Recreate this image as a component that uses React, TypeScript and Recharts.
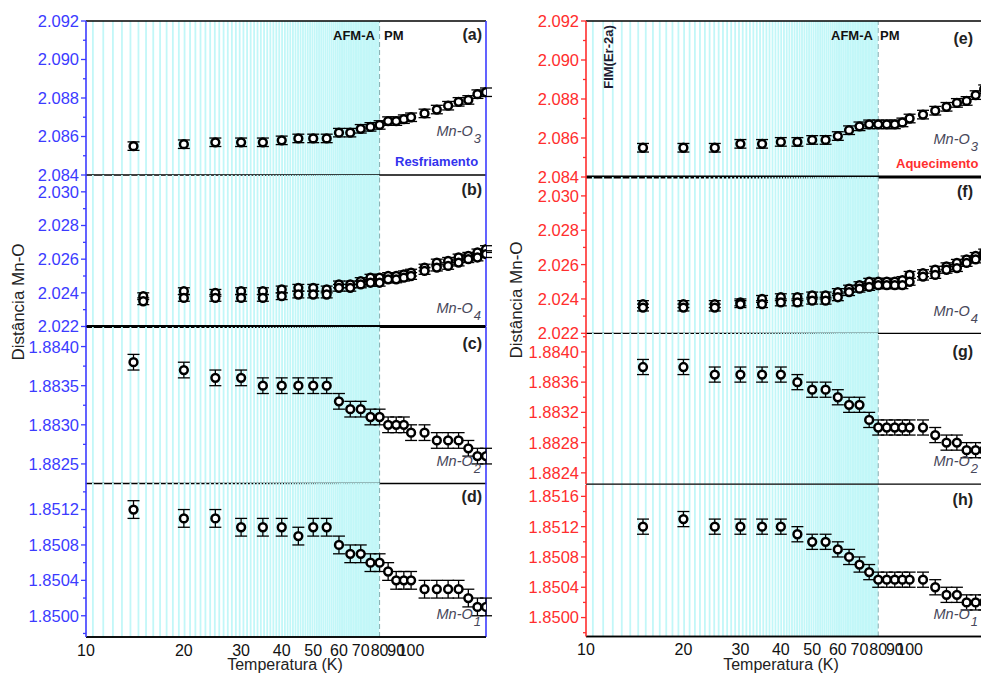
import { ScatterChart, Scatter, XAxis, YAxis, ErrorBar, ReferenceLine } from 'recharts'

const FONT = '"Liberation Sans", Arial, sans-serif'
const BLUE = '#3b3bff'
const RED = '#ff2e2e'
const LABEL_GRAY = '#47475a'

// temperatures (K)
const tempsCool = [14, 20, 25, 30, 35, 40, 45, 50, 55, 60, 65, 70, 75, 80, 85, 90, 95, 100, 110, 120, 130, 140, 150, 160, 170]
const tempsCoolO4 = [15, 20, 25, 30, 35, 40, 45, 50, 55, 60, 65, 70, 75, 80, 85, 90, 95, 100, 110, 120, 130, 140, 150, 160, 170]
const tempsHeat = [15, 20, 25, 30, 35, 40, 45, 50, 55, 60, 65, 70, 75, 80, 85, 90, 95, 100, 110, 120, 130, 140, 150, 160, 170]

// Mn-O distances on cooling (Resfriamento)
const o3Cool = [2.0855, 2.0856, 2.0857, 2.0857, 2.0857, 2.0858, 2.0859, 2.0859, 2.0859, 2.0862, 2.0862, 2.0864, 2.0865, 2.0866, 2.0868, 2.0868, 2.0869, 2.087, 2.0872, 2.0874, 2.0876, 2.0878, 2.0879, 2.0882, 2.0883]
const o4aCool = [2.0238, 2.0241, 2.024, 2.0241, 2.0241, 2.0242, 2.0243, 2.0243, 2.0242, 2.0245, 2.0245, 2.0247, 2.0249, 2.0249, 2.025, 2.025, 2.0251, 2.0252, 2.0255, 2.0258, 2.0259, 2.0261, 2.0262, 2.0264, 2.0266]
const o4bCool = [2.0235, 2.0237, 2.0237, 2.0237, 2.0237, 2.0238, 2.0239, 2.0239, 2.0239, 2.0243, 2.0243, 2.0245, 2.0246, 2.0246, 2.0248, 2.0248, 2.0249, 2.025, 2.0253, 2.0255, 2.0256, 2.0258, 2.026, 2.0261, 2.0263]
const o2Cool = [1.8838, 1.8837, 1.8836, 1.8836, 1.8835, 1.8835, 1.8835, 1.8835, 1.8835, 1.8833, 1.8832, 1.8832, 1.8831, 1.8831, 1.883, 1.883, 1.883, 1.8829, 1.8829, 1.8828, 1.8828, 1.8828, 1.8827, 1.8826, 1.8826]
const o1Cool = [1.8512, 1.8511, 1.8511, 1.851, 1.851, 1.851, 1.8509, 1.851, 1.851, 1.8508, 1.8507, 1.8507, 1.8506, 1.8506, 1.8505, 1.8504, 1.8504, 1.8504, 1.8503, 1.8503, 1.8503, 1.8503, 1.8502, 1.8501, 1.8501]

// Mn-O distances on heating (Aquecimento)
const o3Heat = [2.0855, 2.0855, 2.0855, 2.0857, 2.0857, 2.0858, 2.0858, 2.0859, 2.0859, 2.0861, 2.0864, 2.0866, 2.0867, 2.0867, 2.0867, 2.0867, 2.0868, 2.087, 2.0872, 2.0874, 2.0876, 2.0878, 2.0879, 2.0882, 2.0885]
const o4aHeat = [2.0237, 2.0237, 2.0237, 2.0238, 2.024, 2.0241, 2.0241, 2.0242, 2.0242, 2.0244, 2.0246, 2.0248, 2.025, 2.025, 2.025, 2.025, 2.0251, 2.0254, 2.0255, 2.0257, 2.0259, 2.0261, 2.0263, 2.0265, 2.0267]
const o4bHeat = [2.0235, 2.0235, 2.0235, 2.0237, 2.0237, 2.0238, 2.0238, 2.0239, 2.0239, 2.0241, 2.0244, 2.0246, 2.0247, 2.0248, 2.0248, 2.0248, 2.0248, 2.025, 2.0253, 2.0254, 2.0257, 2.0258, 2.0261, 2.0263, 2.0265]
const o2Heat = [1.8838, 1.8838, 1.8837, 1.8837, 1.8837, 1.8837, 1.8836, 1.8835, 1.8835, 1.8834, 1.8833, 1.8833, 1.8831, 1.883, 1.883, 1.883, 1.883, 1.883, 1.883, 1.8829, 1.8828, 1.8828, 1.8827, 1.8827, 1.8827]
const o1Heat = [1.8512, 1.8513, 1.8512, 1.8512, 1.8512, 1.8512, 1.8511, 1.851, 1.851, 1.8509, 1.8508, 1.8507, 1.8506, 1.8505, 1.8505, 1.8505, 1.8505, 1.8505, 1.8505, 1.8504, 1.8503, 1.8503, 1.8502, 1.8502, 1.8502]

// axis ticks
const tTicks = [10, 20, 30, 40, 50, 60, 70, 80, 90, 100]
const tDomain: [number, number] = [10, 170]
const tTransition = 80

const o3Major = [2.084, 2.086, 2.088, 2.09, 2.092]
const o3Minor = [2.085, 2.087, 2.089, 2.091]
const o4Major = [2.022, 2.024, 2.026, 2.028, 2.03]
const o4Minor = [2.023, 2.025, 2.027, 2.029]
const o2CoolMajor = [1.8825, 1.883, 1.8835, 1.884]
const o2CoolMinor = [1.88275, 1.88325, 1.88375]
const o2HeatMajor = [1.8824, 1.8828, 1.8832, 1.8836, 1.884]
const o2HeatMinor = [1.8826, 1.883, 1.8834, 1.8838, 1.8842]
const o1CoolMajor = [1.85, 1.8504, 1.8508, 1.8512]
const o1HeatMajor = [1.85, 1.8504, 1.8508, 1.8512, 1.8516]
const o1Minor = [1.8498, 1.8502, 1.8506, 1.851, 1.8514]

// vertical hatching of the ordered (AFM-A) region
const hatch = Array.from({ length: 87 }, (_, i) => 10.5 + i * 0.8)

type Series = { t: number[]; v: number[]; err: number }

const rows = (s: Series) => s.t.map((t, i) => ({ t, v: s.v[i], err: s.err }))

const Ring = (p: any) => (
  <circle cx={p.cx} cy={p.cy} r={3.9} fill="#fff" stroke="#000" strokeWidth={2.5} />
)

function YTick(props: any) {
  const { x, y, payload, major, decimals, color } = props
  const isMajor = major.some((m: number) => Math.abs(m - payload.value) < 1e-9)
  return (
    <g>
      <line x1={x - (isMajor ? 5 : 3)} x2={x} y1={y} y2={y} stroke={color} strokeWidth={1.3} />
      {isMajor && (
        <text x={x - 7} y={y} dy="0.36em" textAnchor="end" fill={color} fontSize={16.5} fontFamily={FONT}>
          {payload.value.toFixed(decimals)}
        </text>
      )}
    </g>
  )
}

function XTick({ x, y, payload }: any) {
  return (
    <text x={x} y={y + 19} textAnchor="middle" fill="#111" fontSize={16} fontFamily={FONT}>
      {payload.value}
    </text>
  )
}

type PanelProps = {
  left: number
  top: number
  plotW: number
  plotH: number
  domain: [number, number]
  major: number[]
  minor: number[]
  decimals: number
  color: string
  series: Series[]
  bottomAxis?: boolean
  topLine?: boolean
  bottomW?: number
}

// horizontal frame line held to the plot width
const hLine = (y: number) => [
  { x: tDomain[0], y },
  { x: tDomain[1], y },
]

function Panel(p: PanelProps) {
  const mTop = 12
  const mBottom = p.bottomAxis ? 0 : 12
  const height = mTop + p.plotH + (p.bottomAxis ? 40 : 12)
  return (
    <div style={{ position: 'absolute', left: p.left - 80, top: p.top - mTop }}>
      <ScatterChart width={80 + p.plotW + 6} height={height} margin={{ top: mTop, right: 6, bottom: mBottom, left: 0 }}>
        <XAxis
          type="number"
          dataKey="t"
          scale="log"
          domain={tDomain}
          allowDataOverflow
          ticks={tTicks}
          interval={0}
          hide={!p.bottomAxis}
          height={40}
          axisLine={{ stroke: '#000', strokeWidth: 1.3 }}
          tickLine={false}
          tickSize={0}
          tickMargin={0}
          tick={(t: any) => <XTick {...t} />}
        />
        <YAxis
          type="number"
          dataKey="v"
          domain={p.domain}
          allowDataOverflow
          ticks={[...p.major, ...p.minor]}
          interval={0}
          width={80}
          axisLine={{ stroke: p.color, strokeWidth: 1.6 }}
          tickLine={false}
          tickSize={0}
          tickMargin={0}
          tick={(t: any) => <YTick {...t} major={p.major} decimals={p.decimals} color={p.color} />}
        />
        {hatch.map((x) => (
          <ReferenceLine key={x} x={x} stroke="#c2f7f8" strokeWidth={1.8} />
        ))}
        <ReferenceLine x={tTransition} stroke="#86aeb0" strokeWidth={1} strokeDasharray="5 3" />
        {p.topLine && <ReferenceLine segment={hLine(p.domain[1])} stroke="#000" strokeWidth={1.3} />}
        <ReferenceLine segment={hLine(p.domain[0])} stroke="#000" strokeWidth={p.bottomW ?? 1.3} />
        <ReferenceLine x={tDomain[1]} stroke={p.color} strokeWidth={1.6} />
        {p.series.map((s, i) => (
          <Scatter key={i} data={rows(s)} shape={Ring} isAnimationActive={false}>
            <ErrorBar dataKey="err" direction="y" width={6} stroke="#000" strokeWidth={1.3} />
          </Scatter>
        ))}
      </ScatterChart>
    </div>
  )
}

const abs = (style: React.CSSProperties): React.CSSProperties => ({
  position: 'absolute',
  fontFamily: FONT,
  lineHeight: 1,
  whiteSpace: 'nowrap',
  ...style,
})

function MnO({ sub, right, top }: { sub: string; right: number; top: number }) {
  return (
    <div style={abs({ right, top, fontSize: 14.5, fontStyle: 'italic', color: LABEL_GRAY })}>
      Mn-O<span style={{ fontSize: 13, position: 'relative', top: 7, marginLeft: 1 }}>{sub}</span>
    </div>
  )
}

const Bold = ({ children, style }: { children: React.ReactNode; style: React.CSSProperties }) => (
  <div style={abs({ fontWeight: 'bold', ...style })}>{children}</div>
)

const VText = ({ children, cx, cy, style }: { children: React.ReactNode; cx: number; cy: number; style: React.CSSProperties }) => (
  <div style={abs({ left: cx, top: cy, transform: 'translate(-50%, -50%) rotate(-90deg)', ...style })}>{children}</div>
)

export default function App() {
  const L = 86
  const LW = 400
  const R = 585.7
  const RW = 398.2
  return (
    <div style={{ position: 'absolute', left: 0, top: 0, width: 981, height: 673, overflow: 'hidden', background: '#fff' }}>
      {/* cooling */}
      <Panel left={L} top={21} plotW={LW} plotH={154} domain={[2.084, 2.092]} major={o3Major} minor={o3Minor} decimals={3} color={BLUE}
        series={[{ t: tempsCool, v: o3Cool, err: 0.00022 }]} topLine />
      <Panel left={L} top={175} plotW={LW} plotH={151.5} domain={[2.022, 2.031]} major={o4Major} minor={o4Minor} decimals={3} color={BLUE}
        series={[{ t: tempsCoolO4, v: o4aCool, err: 0.0002 }, { t: tempsCoolO4, v: o4bCool, err: 0.0002 }]} bottomW={2.8} />
      <Panel left={L} top={326.5} plotW={LW} plotH={156.5} domain={[1.88225, 1.88425]} major={o2CoolMajor} minor={o2CoolMinor} decimals={4} color={BLUE}
        series={[{ t: tempsCool, v: o2Cool, err: 0.0001 }]} />
      <Panel left={L} top={483} plotW={LW} plotH={154} domain={[1.84976, 1.8515]} major={o1CoolMajor} minor={o1Minor} decimals={4} color={BLUE}
        series={[{ t: tempsCool, v: o1Cool, err: 0.0001 }]} bottomAxis />

      {/* heating */}
      <Panel left={R} top={21} plotW={RW} plotH={156} domain={[2.084, 2.092]} major={o3Major} minor={o3Minor} decimals={3} color={RED}
        series={[{ t: tempsHeat, v: o3Heat, err: 0.00022 }]} topLine bottomW={2.8} />
      <Panel left={R} top={177} plotW={RW} plotH={156.3} domain={[2.022, 2.0311]} major={o4Major} minor={o4Minor} decimals={3} color={RED}
        series={[{ t: tempsHeat, v: o4aHeat, err: 0.0002 }, { t: tempsHeat, v: o4bHeat, err: 0.0002 }]} />
      <Panel left={R} top={333.3} plotW={RW} plotH={151.2} domain={[1.88225, 1.88425]} major={o2HeatMajor} minor={o2HeatMinor} decimals={4} color={RED}
        series={[{ t: tempsHeat, v: o2Heat, err: 0.0001 }]} />
      <Panel left={R} top={484.5} plotW={RW} plotH={151.5} domain={[1.84975, 1.85175]} major={o1HeatMajor} minor={o1Minor} decimals={4} color={RED}
        series={[{ t: tempsHeat, v: o1Heat, err: 0.0001 }]} bottomAxis />

      {/* panel letters */}
      <Bold style={{ right: 499, top: 27, fontSize: 16, color: '#222' }}>(a)</Bold>
      <Bold style={{ right: 499, top: 182, fontSize: 16, color: '#222' }}>(b)</Bold>
      <Bold style={{ right: 499, top: 336, fontSize: 16, color: '#222' }}>(c)</Bold>
      <Bold style={{ right: 499, top: 489, fontSize: 16, color: '#222' }}>(d)</Bold>
      <Bold style={{ right: 8, top: 31, fontSize: 16, color: '#222' }}>(e)</Bold>
      <Bold style={{ right: 8, top: 184, fontSize: 16, color: '#222' }}>(f)</Bold>
      <Bold style={{ right: 8, top: 344, fontSize: 16, color: '#222' }}>(g)</Bold>
      <Bold style={{ right: 8, top: 492, fontSize: 16, color: '#222' }}>(h)</Bold>

      {/* bond labels */}
      <MnO sub="3" right={500} top={124} />
      <MnO sub="4" right={500} top={301} />
      <MnO sub="2" right={500} top={454} />
      <MnO sub="1" right={500} top={607} />
      <MnO sub="3" right={3} top={132} />
      <MnO sub="4" right={3} top={304} />
      <MnO sub="2" right={3} top={454} />
      <MnO sub="1" right={3} top={607} />

      {/* magnetic phases */}
      <Bold style={{ left: 333, top: 29, fontSize: 13, color: '#111' }}>AFM-A</Bold>
      <Bold style={{ left: 384, top: 29, fontSize: 13, color: '#111' }}>PM</Bold>
      <Bold style={{ left: 831, top: 29, fontSize: 13, color: '#111' }}>AFM-A</Bold>
      <Bold style={{ left: 880, top: 29, fontSize: 13, color: '#111' }}>PM</Bold>
      <VText cx={607.5} cy={56.5} style={{ fontSize: 13, fontWeight: 'bold', color: '#1c1c30' }}>FIM(Er-2a)</VText>

      <Bold style={{ left: 395, top: 155, fontSize: 13, color: '#3333ee' }}>Resfriamento</Bold>
      <Bold style={{ left: 896, top: 157, fontSize: 13, color: RED }}>Aquecimento</Bold>

      {/* axis titles */}
      <VText cx={17.5} cy={302} style={{ fontSize: 17, color: '#222' }}>Distância Mn-O</VText>
      <VText cx={515.5} cy={300} style={{ fontSize: 17, color: '#222' }}>Distância Mn-O</VText>
      <div style={abs({ left: 285, top: 657, fontSize: 16, color: '#222', transform: 'translateX(-50%)' })}>Temperatura (K)</div>
      <div style={abs({ left: 781, top: 657, fontSize: 16, color: '#222', transform: 'translateX(-50%)' })}>Temperatura (K)</div>
    </div>
  )
}
